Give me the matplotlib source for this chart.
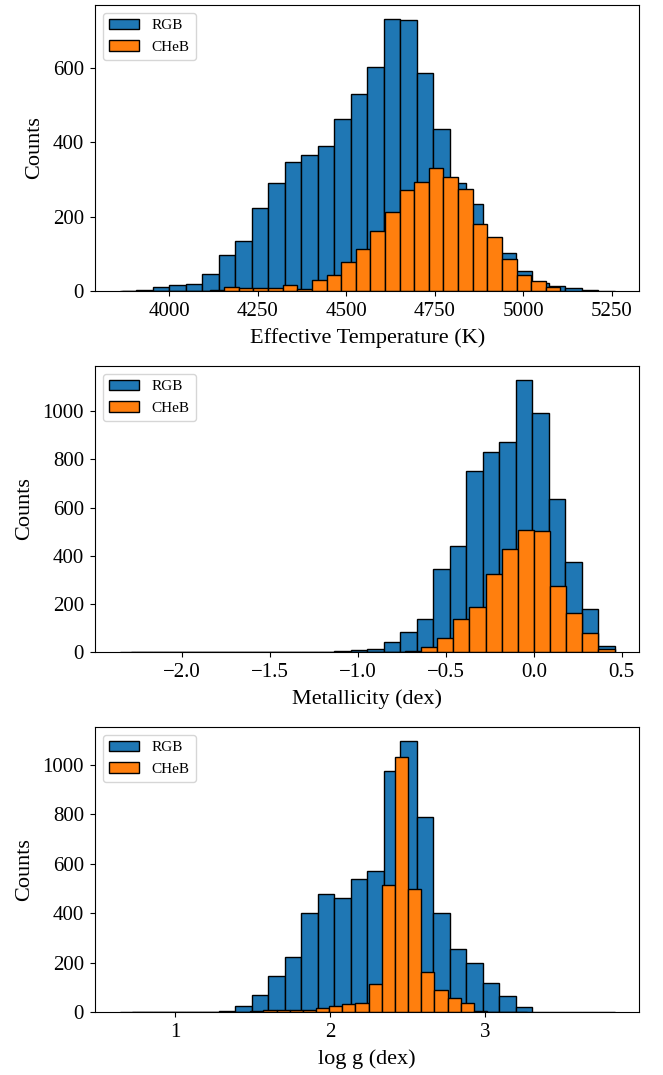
import numpy as np
import matplotlib
matplotlib.use("Agg")
import matplotlib.pyplot as plt

plt.rcParams['font.family'] = ['Liberation Serif', 'DejaVu Serif']
plt.rcParams['mathtext.fontset'] = 'stix'

# ---- Effective temperature (K) ----
teff_edges_rgb = np.linspace(3860, 5258, 31)
teff_counts_rgb = [1, 2, 10, 15, 20, 46, 96, 135, 224, 290, 347, 366, 389, 462, 531,
                   602, 733, 730, 587, 436, 291, 233, 135, 101, 54, 21, 13, 7, 3, 1]
teff_edges_cheb = np.linspace(3866, 5105, 31)
teff_counts_cheb = [1, 0, 0, 0, 0, 0, 4, 12, 9, 9, 9, 16, 6, 30, 43, 79, 114, 161, 213,
                    273, 293, 330, 306, 275, 179, 146, 85, 43, 28, 12]

# ---- Metallicity (dex) ----
feh_edges_rgb = np.linspace(-2.352, 0.459, 31)
feh_counts_rgb = [1, 0, 0, 0, 0, 0, 0, 0, 0, 0, 1, 1, 1, 3, 7, 12, 41, 81, 138, 345,
                  441, 750, 831, 873, 1131, 993, 637, 374, 177, 23]
feh_edges_cheb = np.linspace(-2.289, 0.459, 31)
feh_counts_cheb = [1, 0, 0, 0, 0, 0, 0, 0, 0, 0, 0, 0, 0, 0, 0, 0, 1, 3, 19, 59, 137,
                   186, 322, 428, 507, 501, 275, 164, 77, 14]

# ---- log g (dex) ----
logg_edges_rgb = np.linspace(0.6436, 3.836, 31)
logg_counts_rgb = [1, 0, 1, 0, 1, 2, 5, 25, 68, 145, 224, 402, 476, 460, 539, 571,
                   973, 1097, 787, 402, 253, 200, 117, 64, 20, 1, 1, 0, 1, 1]
logg_edges_cheb = np.linspace(0.7212, 3.268, 31)
logg_counts_cheb = [1, 0, 0, 0, 0, 0, 0, 0, 1, 4, 9, 9, 9, 9, 17, 24, 34, 35, 114, 512,
                    1031, 496, 160, 88, 56, 37, 6, 0, 0, 1]

labels = ["RGB", "CHeB"]
xlabels = ["Effective Temperature (K)", "Metallicity (dex)", "log g (dex)"]
xticks = [[4000, 4250, 4500, 4750, 5000, 5250],
          [-2.0, -1.5, -1.0, -0.5, 0.0, 0.5],
          [1, 2, 3]]

panels = [
    (teff_edges_rgb, teff_counts_rgb, teff_edges_cheb, teff_counts_cheb),
    (feh_edges_rgb, feh_counts_rgb, feh_edges_cheb, feh_counts_cheb),
    (logg_edges_rgb, logg_counts_rgb, logg_edges_cheb, logg_counts_cheb),
]

W, H = 663, 1075
fig = plt.figure(figsize=(W / 100, H / 100), dpi=100)
left_px, right_px = 95, 639.3
tops = [5, 366, 727]
bottoms = [291, 652, 1012]

for i, (er, cr, ec, cc) in enumerate(panels):
    ax = fig.add_axes([left_px / W, 1 - bottoms[i] / H,
                       (right_px - left_px) / W, (bottoms[i] - tops[i]) / H])
    er = np.asarray(er); ec = np.asarray(ec)
    ax.hist(er[:-1], bins=er, weights=cr, color='#1f77b4', edgecolor='black',
            linewidth=1.0, label=labels[0])
    ax.hist(ec[:-1], bins=ec, weights=cc, color='#ff7f0e', edgecolor='black',
            linewidth=1.0, label=labels[1])
    ax.set_xticks(xticks[i])
    ax.set_xlabel(xlabels[i], fontsize=16, labelpad=5)
    ax.set_ylabel("Counts", fontsize=16, labelpad=6)
    ax.tick_params(labelsize=15, pad=4.5)
    ax.legend(loc='upper left', fontsize=11)

fig.savefig("out.png", dpi=100)
